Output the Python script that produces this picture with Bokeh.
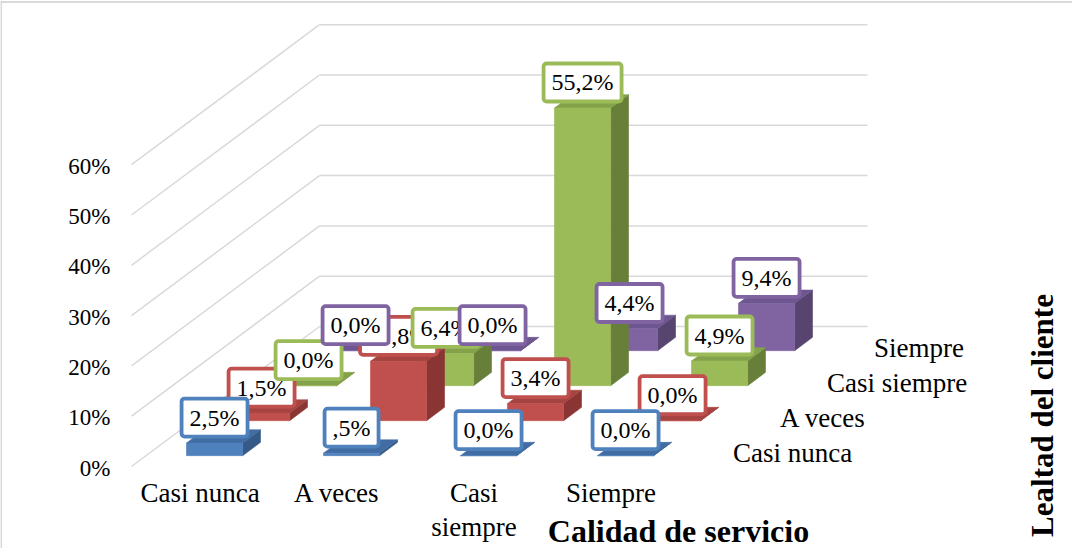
from bokeh.plotting import figure
from bokeh.models import Range1d, Span
from bokeh.core.properties import value
from bokeh.embed import file_html
from bokeh.resources import INLINE

# ---------------- data ----------------
x_categories = ["Casi nunca", "A veces", "Casi siempre", "Siempre"]      # Calidad de servicio
x_tick_labels = ["Casi nunca", "A veces", "Casi\nsiempre", "Siempre"]
depth_series = ["Casi nunca", "A veces", "Casi siempre", "Siempre"]     # Lealtad del cliente

blue_vals = [2.5, 0.5, 0.0, 0.0]
red_vals = [1.5, 11.8, 3.4, 0.0]
green_vals = [0.0, 6.4, 55.2, 4.9]
purple_vals = [0.0, 0.0, 4.4, 9.4]

blue_labels = ["2,5%", ",5%", "0,0%", "0,0%"]
red_labels = ["1,5%", "11,8%", "3,4%", "0,0%"]
green_labels = ["0,0%", "6,4%", "55,2%", "4,9%"]
purple_labels = ["0,0%", "0,0%", "4,4%", "9,4%"]

y_ticks = [0, 10, 20, 30, 40, 50, 60]
y_tick_labels = ["0%", "10%", "20%", "30%", "40%", "50%", "60%"]

x_title = "Calidad de servicio"
depth_title = "Lealtad del cliente"

# ---------------- styles ----------------
series_vals = [blue_vals, red_vals, green_vals, purple_vals]
series_labels = [blue_labels, red_labels, green_labels, purple_labels]
front_cols = ["#4F81BD", "#C0504D", "#9BBB59", "#8064A2"]
top_cols = ["#416DA3", "#A64441", "#84A24A", "#6E5690"]
side_cols = ["#365A87", "#8A3533", "#687F3A", "#58456F"]
border_cols = ["#4F81BD", "#C0504D", "#9BBB59", "#8064A2"]
GRID = "#D9D9D9"
SERIF = "Liberation Serif"

W, H = 1072, 548
PAGE = 8
OX, OY = 139.0, 474.0     # page px of the front-left floor corner
CW = 137.0                # px per category
VS = 5.03                 # px per percent
DXP, DYP = 47.0, 35.0     # px per depth row
BAR_W = 0.41
BAR_D = 0.38
N = len(x_categories)
M = len(depth_series)


def px_to_u(px):
    return (px - OX) / CW


def py_to_v(py):
    return (OY - py) / VS


def proj(u, d, v):
    return u + d * DXP / CW, v + d * DYP / VS


p = figure(width=W, height=H, output_backend="svg", toolbar_location=None,
           x_range=Range1d(px_to_u(PAGE), px_to_u(PAGE + W)),
           y_range=Range1d(py_to_v(PAGE + H), py_to_v(PAGE)),
           x_axis_location=None, y_axis_location=None, min_border=0,
           outline_line_color=None, background_fill_color="white",
           border_fill_color="white")
p.grid.visible = False

# chart border (top and left edges visible)
p.add_layout(Span(location=py_to_v(9.5), dimension="width", line_color=GRID, line_width=2))
p.add_layout(Span(location=px_to_u(8.6), dimension="height", line_color=GRID, line_width=2))

# ---------------- gridlines (back wall + side wall) ----------------
gx, gy = [], []
for t in y_ticks:
    a = proj(0, M, t)
    b = proj(N, M, t)
    gx.append([a[0], b[0]]); gy.append([a[1], b[1]])
    c = proj(0, 0, t)
    gx.append([c[0], a[0]]); gy.append([c[1], a[1]])
p.multi_line(gx, gy, line_color=GRID, line_width=1.5)

# y tick labels
p.text(x=[proj(0, 0, 0)[0] - 21 / CW] * len(y_ticks),
       y=[t - 1.5 / VS for t in y_ticks], text=y_tick_labels,
       text_font=value(SERIF), text_font_size="23px", text_color="#000000",
       text_align="right", text_baseline="middle")

# ---------------- bars ----------------
pxs, pys, pcols = [], [], []
for s in reversed(range(M)):
    for k in range(N):
        val = series_vals[s][k]
        u0 = k + (1 - BAR_W) / 2
        u1 = u0 + BAR_W
        d0 = s + (1 - BAR_D) / 2
        d1 = d0 + BAR_D
        faces = [
            ([(u1, d0, 0), (u1, d1, 0), (u1, d1, val), (u1, d0, val)], side_cols[s]),
            ([(u0, d0, val), (u1, d0, val), (u1, d1, val), (u0, d1, val)], top_cols[s]),
            ([(u0, d0, 0), (u1, d0, 0), (u1, d0, val), (u0, d0, val)], front_cols[s]),
        ]
        for pts, col in faces:
            xy = [proj(*q) for q in pts]
            pxs.append([q[0] for q in xy])
            pys.append([q[1] for q in xy])
            pcols.append(col)
p.patches(pxs, pys, fill_color=pcols, line_color=pcols, line_width=0.6)

# ---------------- data labels ----------------
LABEL_RISE = 25.5
label_order = [1, 2, 3, 0]
for s in label_order:
    lx, ly = [], []
    for k in range(N):
        val = series_vals[s][k]
        uc = k + 0.5
        d0 = s + (1 - BAR_D) / 2
        x, y = proj(uc, d0, val)
        lx.append(x)
        ly.append(y + LABEL_RISE / VS)
    # box
    p.text(x=lx, y=ly, text=series_labels[s],
           text_font=value(SERIF), text_font_size="24px", text_alpha=0,
           text_align="center", text_baseline="middle",
           background_fill_color="white", border_line_color=border_cols[s],
           border_line_width=3.8, padding=dict(x=8, y=6), border_radius=3)
    # text
    p.text(x=lx, y=ly, text=series_labels[s],
           text_font=value(SERIF), text_font_size="24px", text_color="#000000",
           text_align="center", text_baseline="middle")

# ---------------- category labels ----------------
p.text(x=[k + 0.5 for k in range(N)], y=[-11 / VS] * N, text=x_tick_labels,
       text_font=value(SERIF), text_font_size="27px", text_color="#000000",
       text_align="center", text_baseline="top", text_line_height=1.15)

# depth labels
dlx, dly = [], []
for s in range(M):
    x, y = proj(N, s + 0.5, 0)
    dlx.append(x + 30 / CW)
    dly.append(y - 4 / VS)
p.text(x=dlx, y=dly, text=depth_series,
       text_font=value(SERIF), text_font_size="27px", text_color="#000000",
       text_align="left", text_baseline="middle")

# axis titles
p.text(x=[px_to_u(686)], y=[py_to_v(538)], text=[x_title],
       text_font=value(SERIF), text_font_size="32px", text_font_style="bold",
       text_color="#000000", text_align="center", text_baseline="middle")
p.text(x=[px_to_u(1050)], y=[py_to_v(423)], text=[depth_title], angle=1.5707963,
       text_font=value(SERIF), text_font_size="31px", text_font_style="bold",
       text_color="#000000", text_align="center", text_baseline="middle")

open("out.html", "w").write(file_html(p, INLINE))
